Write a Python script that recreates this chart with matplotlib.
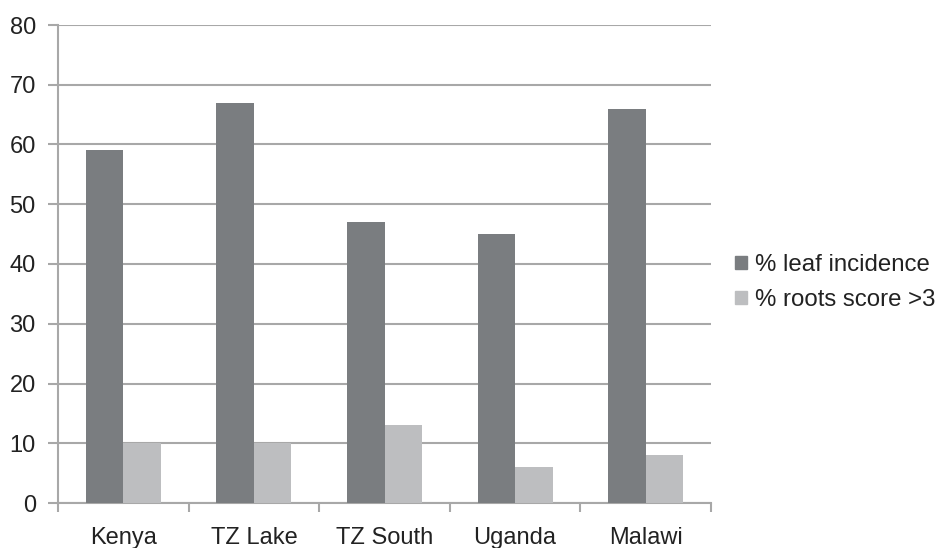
import matplotlib
matplotlib.use("Agg")
import matplotlib.pyplot as plt
import numpy as np
from matplotlib.patches import Patch

categories = ["Kenya", "TZ Lake", "TZ South", "Uganda", "Malawi"]
leaf_incidence = [59, 67, 47, 45, 66]
roots_score = [10, 10, 13, 6, 8]
series_names = ["% leaf incidence", "% roots score >3"]
yticks = [0, 10, 20, 30, 40, 50, 60, 70, 80]

plt.rcParams['font.family'] = ['Liberation Sans', 'DejaVu Sans']

fig = plt.figure(figsize=(9.41, 5.48), dpi=100)
ax = fig.add_axes([58/941, 1-503/548, (711-58)/941, (503-25)/548])

dark = "#7a7d80"
light = "#bdbec0"
grid = "#a8a8a8"

x = np.arange(len(categories))
w = 0.287
ax.bar(x - w/2, leaf_incidence, width=w, color=dark, zorder=3)
ax.bar(x + w/2, roots_score, width=w, color=light, zorder=3)

ax.set_xlim(-0.5, len(categories) - 0.5)
ax.set_ylim(0, 80)
ax.set_yticks(yticks)
ax.yaxis.grid(True, color=grid, linewidth=1.5, zorder=0)
ax.tick_params(axis='y', length=7, width=1.5, color=grid, labelsize=17, pad=9, labelcolor="#222222")

ax.set_xticks(np.arange(len(categories) + 1) - 0.5)
ax.set_xticklabels([])
ax.set_xticks(x, minor=True)
ax.set_xticklabels(categories, minor=True)
ax.tick_params(axis='x', which='major', length=6.5, width=1.5, color=grid, direction='out')
ax.tick_params(axis='x', which='minor', length=0, labelsize=17, pad=17, labelcolor="#222222")

for s in ['top', 'right']:
    ax.spines[s].set_visible(False)
for s in ['left', 'bottom']:
    ax.spines[s].set_color(grid)
    ax.spines[s].set_linewidth(1.5)

handles = [Patch(color=dark), Patch(color=light)]
fig.legend(handles, series_names, loc='center left', bbox_to_anchor=(735/941, 1-282.5/548),
           frameon=False, fontsize=17.3, handlelength=0.5, handleheight=0.5,
           handletextpad=0.35, labelspacing=0.55, labelcolor="#222222",
           borderaxespad=0, borderpad=0)

fig.savefig("out.png", dpi=100)
